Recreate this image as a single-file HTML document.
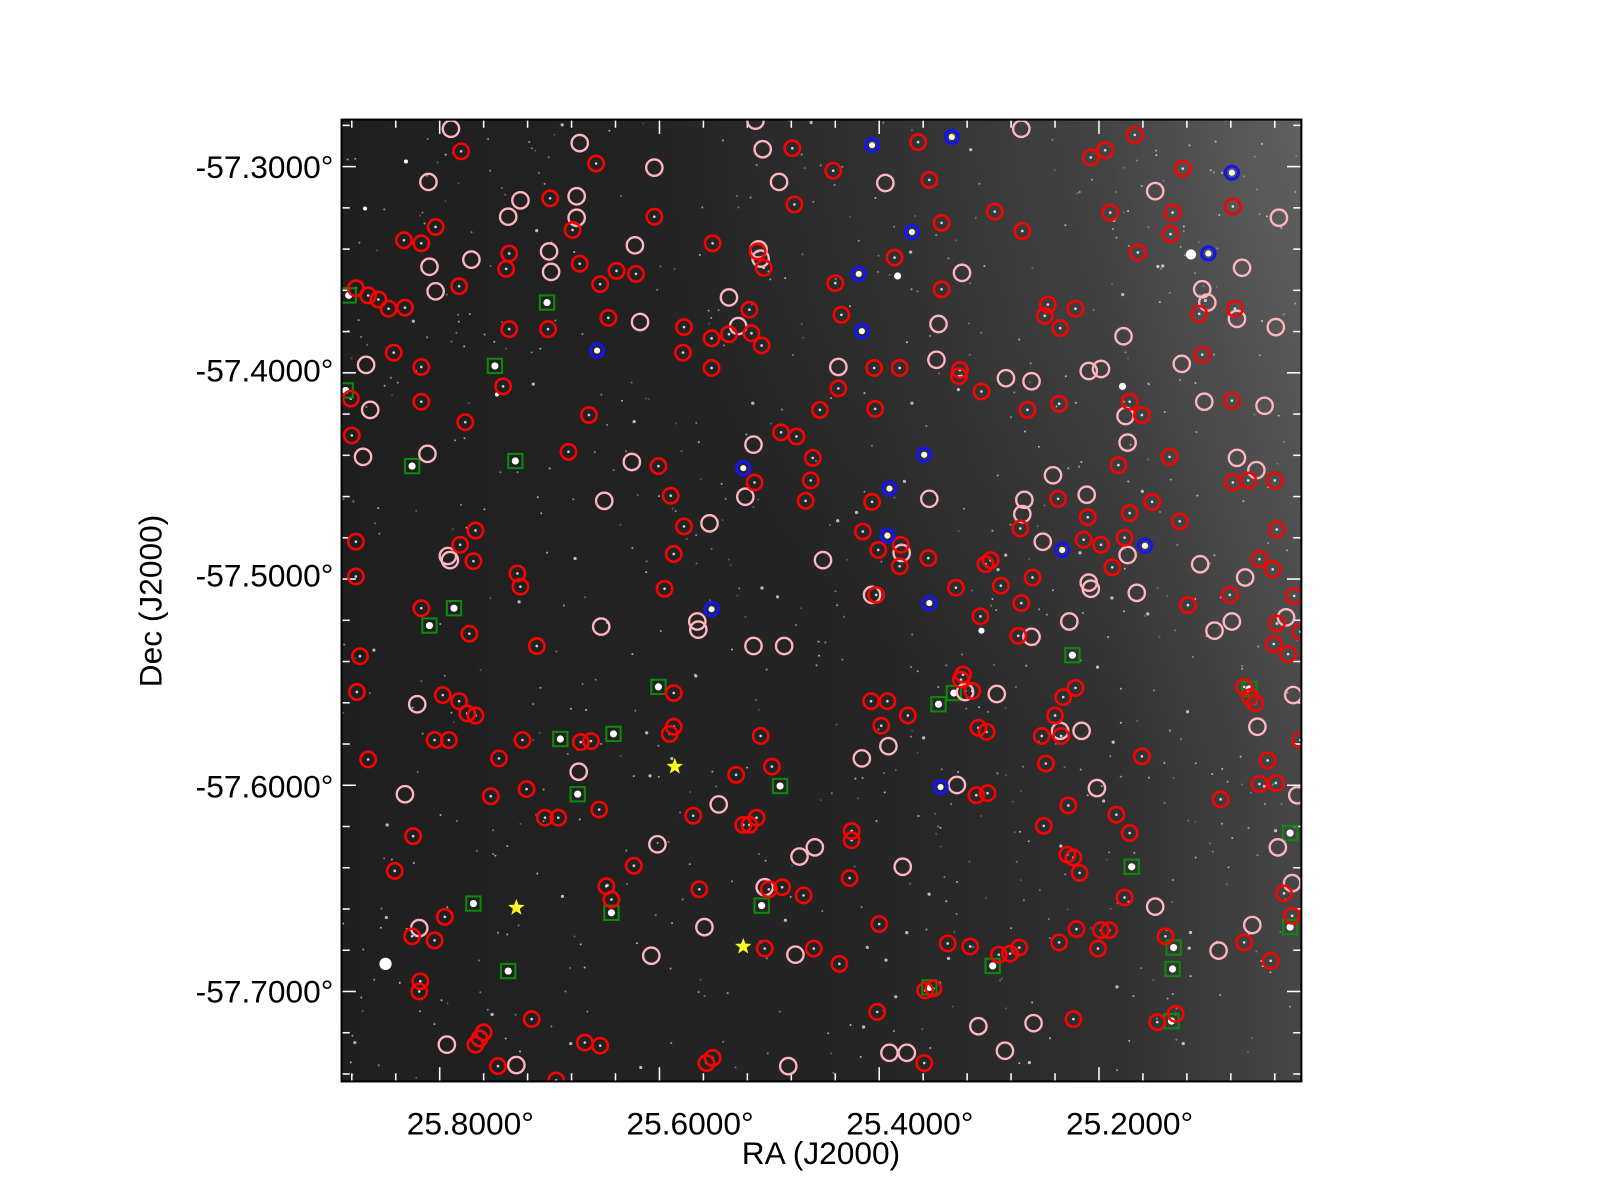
<!DOCTYPE html>
<html><head><meta charset="utf-8"><style>
html,body{margin:0;padding:0;background:#fff;width:1600px;height:1200px;overflow:hidden}
svg{display:block}
text{font-family:"Liberation Sans",sans-serif;fill:#000}
</style></head><body>
<svg id="s" width="1600" height="1200" viewBox="0 0 1565 1174" xmlns="http://www.w3.org/2000/svg">
<defs>
<linearGradient id="bg" x1="0" y1="0" x2="1" y2="0">
<stop offset="0" stop-color="#1f1f1f"/><stop offset="0.55" stop-color="#252525"/><stop offset="0.8" stop-color="#303030"/><stop offset="1" stop-color="#474747"/>
</linearGradient>
<radialGradient id="bg2" cx="1" cy="0" r="0.7">
<stop offset="0" stop-color="#fff" stop-opacity="0.14"/><stop offset="1" stop-color="#fff" stop-opacity="0"/>
</radialGradient>
<clipPath id="cp"><rect x="334" y="117" width="939" height="941"/></clipPath>
</defs>
<rect x="334" y="117" width="939" height="941" fill="url(#bg)"/>
<rect x="334" y="117" width="939" height="941" fill="url(#bg2)"/>
<g id="stars" clip-path="url(#cp)"></g>
<g id="ticks"></g>
<g id="marks" clip-path="url(#cp)"></g>
<rect x="334" y="117" width="939" height="941" fill="none" stroke="#000" stroke-width="2"/>
<g font-size="31" text-anchor="end">
<text x="326" y="174">-57.3000°</text>
<text x="326" y="373">-57.4000°</text>
<text x="326" y="574">-57.5000°</text>
<text x="326" y="780">-57.6000°</text>
<text x="326" y="981">-57.7000°</text>
</g>
<g font-size="31" text-anchor="middle">
<text x="460" y="1110">25.8000°</text>
<text x="675" y="1110">25.6000°</text>
<text x="890" y="1110">25.4000°</text>
<text x="1105" y="1110">25.2000°</text>
<text x="803" y="1139">RA (J2000)</text>
<text transform="translate(158,588) rotate(-90)">Dec (J2000)</text>
</g>
</svg>
<script>
var NS="http://www.w3.org/2000/svg";
function el(p,t,a){var e=document.createElementNS(NS,t);for(var k in a)e.setAttribute(k,a[k]);p.appendChild(e);return e;}
var st=document.getElementById('stars'),mk=document.getElementById('marks'),tk=document.getElementById('ticks');
var seed=7;function rnd(){seed=(seed*16807)%2147483647;return seed/2147483647;}
for(var i=0;i<700;i++){var x=334+rnd()*939,y=117+rnd()*941,b=rnd();
el(st,'circle',{cx:x,cy:y,r:b>0.9?1.6:1,fill:'#fff','fill-opacity':(0.2+b*0.5).toFixed(2)});}
[[1165,249,5],[1098,378,3.5],[878,270,3.5],[377,943,6],[960,617,3],[397,158,2],[357,204,2],[486,386,2]].forEach(function(p){el(st,'circle',{cx:p[0],cy:p[1],r:p[2],fill:'#fff'});});
for(var x=430-43*2;x<1273;x+=43){if(x<336)continue;var L=((x-430)%215===0)?14:8;
el(tk,'line',{x1:x,y1:1058,x2:x,y2:1058-L,stroke:'#fff','stroke-width':1.5});el(tk,'line',{x1:x,y1:117,x2:x,y2:117+L,stroke:'#fff','stroke-width':1.5});}
for(var k=-1;k<25;k++){var y=163+40.35*k;if(y<119||y>1056)continue;var L=(k%5===0)?14:8;
el(tk,'line',{x1:334,y1:y,x2:334+L,y2:y,stroke:'#fff','stroke-width':1.5});el(tk,'line',{x1:1273,y1:y,x2:1273-L,y2:y,stroke:'#fff','stroke-width':1.5});}
var red=[[451,148],[583,160],[775,145],[815,167],[898,139],[909,176],[1067,154],[1081,147],[1110,132],[1157,165],[1147,208],[1145,229],[1206,202],[1113,247],[1173,307],[1208,302],[1205,392],[1176,347],[538,194],[560,225],[567,258],[587,278],[603,265],[622,268],[640,212],[697,238],[741,246],[747,262],[777,200],[875,252],[921,218],[921,283],[973,207],[1000,226],[1025,298],[1022,309],[1037,321],[1052,302],[1086,208],[395,235],[412,238],[426,222],[449,280],[498,248],[495,263],[498,322],[536,322],[595,311],[669,320],[668,345],[696,360],[696,331],[713,327],[735,326],[745,338],[733,303],[817,277],[823,308],[855,360],[880,360],[939,362],[938,368],[960,383],[1005,401],[1036,395],[343,390],[385,345],[396,301],[412,359],[412,393],[455,413],[492,378],[576,406],[556,442],[644,456],[656,485],[669,515],[659,542],[650,576],[738,472],[764,423],[779,427],[795,448],[793,470],[788,490],[802,401],[820,380],[856,400],[853,491],[844,520],[859,538],[857,582],[881,533],[880,554],[908,546],[935,575],[969,548],[959,603],[964,552],[979,573],[998,517],[1035,488],[1060,528],[1064,506],[1077,533],[1088,555],[1100,526],[1105,502],[1105,393],[1117,406],[1094,455],[1144,447],[1127,491],[1154,510],[1162,592],[1206,472],[1221,470],[1247,470],[1249,518],[1246,630],[1260,640],[1272,618],[1232,547],[1245,557],[1249,610],[1240,744],[1248,766],[1272,724],[1232,767],[1194,782],[1217,922],[1256,874],[1264,896],[1243,940],[1228,688],[1223,682],[1217,672],[344,426],[348,530],[348,564],[352,642],[349,677],[360,743],[386,852],[403,916],[411,960],[410,970],[425,920],[435,897],[404,818],[425,724],[439,724],[433,680],[449,686],[457,698],[465,700],[459,620],[463,549],[465,519],[450,533],[412,595],[380,302],[348,282],[360,289],[370,293],[480,779],[515,772],[488,742],[506,561],[509,574],[511,724],[525,632],[533,800],[546,800],[568,726],[578,725],[586,792],[593,867],[598,880],[620,847],[655,718],[659,711],[659,678],[678,798],[727,807],[733,807],[748,928],[765,868],[786,876],[796,928],[821,943],[833,813],[833,822],[831,859],[858,990],[860,904],[904,1040],[913,967],[949,926],[988,933],[997,927],[1021,808],[1023,747],[1019,720],[1032,700],[1038,720],[1040,682],[1052,673],[1045,788],[1050,839],[1056,854],[1053,909],[1050,997],[1036,922],[1044,836],[1077,910],[1085,910],[1074,928],[1092,797],[1105,815],[1117,740],[1100,878],[1132,1000],[1140,916],[1150,992],[1203,582],[1266,583],[977,934],[955,778],[957,712],[951,676],[942,660],[940,665],[927,923],[966,776],[999,590],[996,622],[1010,565],[965,716],[852,686],[868,686],[862,710],[888,700],[755,750],[740,800],[684,870],[697,1035],[691,1040],[752,870],[720,758],[744,720],[520,997],[572,1020],[587,1023],[544,1057],[487,1043],[473,1010],[465,1022],[469,1016],[905,969]];
var pink=[[441,126],[419,178],[567,140],[640,164],[739,118],[746,146],[762,178],[866,179],[999,126],[1130,187],[1251,213],[1176,283],[1181,296],[1215,262],[1210,312],[1248,320],[1237,397],[1178,393],[1156,356],[1099,329],[1077,361],[1065,363],[1009,373],[984,370],[941,267],[918,317],[916,352],[820,359],[742,244],[744,253],[713,291],[722,319],[626,315],[621,240],[564,192],[564,213],[537,246],[539,266],[497,212],[509,196],[461,254],[420,261],[426,285],[358,357],[362,401],[418,444],[438,544],[440,548],[408,689],[396,777],[410,908],[437,1022],[505,1042],[591,490],[618,452],[694,512],[737,435],[729,486],[682,608],[683,616],[588,613],[566,755],[643,826],[637,935],[689,907],[703,787],[748,868],[782,838],[797,829],[778,934],[771,1043],[843,742],[869,730],[883,848],[909,488],[882,541],[853,582],[805,548],[767,632],[737,632],[870,1030],[887,1030],[957,1004],[983,1028],[1011,1001],[944,677],[936,768],[975,679],[1009,623],[1037,715],[1058,715],[1073,771],[1130,887],[1192,930],[1225,905],[1230,711],[1250,829],[1264,864],[1269,778],[1265,680],[1258,604],[1205,608],[1188,617],[1174,552],[1112,580],[1103,543],[1065,570],[1067,576],[1063,484],[1020,530],[1030,465],[1002,489],[1000,503],[1103,433],[1101,407],[1210,448],[1229,460],[1218,565],[355,447],[1046,608]];
var blue=[[853,142],[931,134],[1205,169],[1182,248],[892,227],[840,268],[843,324],[584,343],[727,458],[904,445],[870,478],[868,524],[1039,538],[1120,534],[909,590],[696,596],[920,770]];
var green=[[341,289],[535,296],[484,358],[338,382],[403,456],[504,451],[444,595],[420,612],[548,723],[600,718],[644,672],[565,777],[763,769],[918,689],[933,678],[1049,641],[1222,674],[1262,815],[1107,848],[463,884],[598,893],[497,950],[745,886],[971,945],[909,966],[1148,927],[1147,948],[1146,999],[1262,907]];
red.forEach(function(p){el(st,'circle',{cx:p[0],cy:p[1],r:1.3,fill:'#fff','fill-opacity':0.8});});
green.forEach(function(p){el(mk,'circle',{cx:p[0],cy:p[1],r:3.5,fill:'#fff'});el(mk,'rect',{x:p[0]-7,y:p[1]-7,width:14,height:14,fill:'none',stroke:'#0b8a0b','stroke-width':2});});
pink.forEach(function(p){el(mk,'circle',{cx:p[0],cy:p[1],r:8,fill:'none',stroke:'#ffb6c1','stroke-width':2.3});});
red.forEach(function(p){el(mk,'circle',{cx:p[0],cy:p[1],r:7.5,fill:'none',stroke:'#ff0000','stroke-width':2.5});});
blue.forEach(function(p){el(mk,'circle',{cx:p[0],cy:p[1],r:3,fill:'#fff'});el(mk,'circle',{cx:p[0],cy:p[1],r:6.5,fill:'none',stroke:'#1515ee','stroke-width':3});});
[[660,750],[505,888],[727,926]].forEach(function(p){var d='';for(var i=0;i<10;i++){var a=-Math.PI/2+i*Math.PI/5,r=i%2?3.5:8.5;d+=(i?'L':'M')+(p[0]+r*Math.cos(a)).toFixed(1)+','+(p[1]+r*Math.sin(a)).toFixed(1);}el(mk,'path',{d:d+'Z',fill:'#ffff22'});});
</script>
</body></html>
